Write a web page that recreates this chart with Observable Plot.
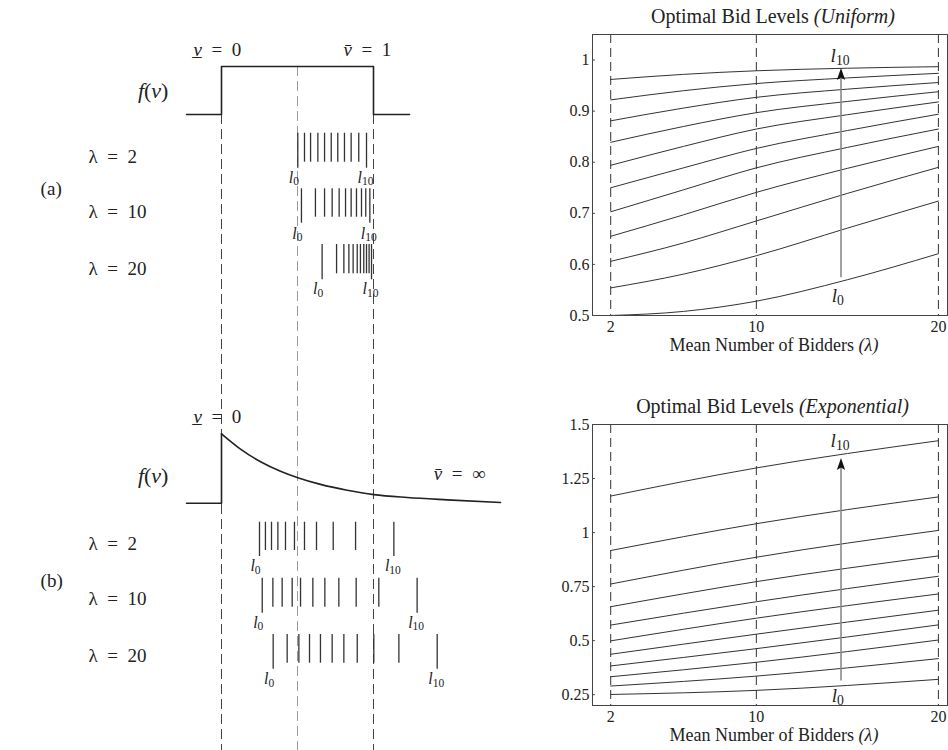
<!DOCTYPE html>
<html><head><meta charset="utf-8">
<script src="https://cdn.jsdelivr.net/npm/d3@7"></script>
<script src="https://cdn.jsdelivr.net/npm/@observablehq/plot@0.6"></script>
<style>
body{margin:0;background:#fff;}
#root{position:relative;width:948px;height:750px;overflow:hidden;font-family:"Liberation Serif","Times New Roman",serif;color:#222;}
.abs{position:absolute;}
.lbl{position:absolute;white-space:nowrap;transform:translate(-50%,-50%);}
.title{font-size:20px;}
.axl{font-size:18px;}
</style></head><body><div id="root"></div>
<script>
// ---------- DATA ----------
const levelNames = ["l0","l1","l2","l3","l4","l5","l6","l7","l8","l9","l10"];
const lambdaTicks = [2, 10, 20];

// Right-top: optimal bid levels, uniform values (rows l0..l10, at lambdaUniform)
const lambdaUniform = [2, 6, 10, 15, 20];
const uniformBids = [
  [0.500, 0.508, 0.528, 0.570, 0.621],
  [0.554, 0.581, 0.617, 0.671, 0.724],
  [0.606, 0.642, 0.685, 0.739, 0.790],
  [0.655, 0.697, 0.741, 0.788, 0.831],
  [0.703, 0.746, 0.789, 0.829, 0.865],
  [0.750, 0.789, 0.827, 0.862, 0.894],
  [0.794, 0.831, 0.865, 0.893, 0.918],
  [0.839, 0.870, 0.897, 0.919, 0.938],
  [0.881, 0.906, 0.927, 0.943, 0.956],
  [0.922, 0.940, 0.954, 0.965, 0.974],
  [0.962, 0.972, 0.979, 0.984, 0.987]
];
const uniformYTicks = [0.5, 0.6, 0.7, 0.8, 0.9, 1];

// Right-bottom: optimal bid levels, exponential values
const lambdaExp = [2, 10, 20];
const expBids = [
  [0.251, 0.270, 0.321],
  [0.290, 0.336, 0.417],
  [0.333, 0.400, 0.503],
  [0.383, 0.463, 0.573],
  [0.437, 0.530, 0.641],
  [0.499, 0.604, 0.716],
  [0.572, 0.680, 0.798],
  [0.657, 0.773, 0.892],
  [0.762, 0.886, 1.010],
  [0.917, 1.041, 1.165],
  [1.169, 1.299, 1.425]
];
const expYTicks = [0.25, 0.5, 0.75, 1, 1.25, 1.5];

// Left panels: bid level positions (value units) for lambda = 2, 10, 20
const ticksUniform2  = [0.502, 0.546, 0.586, 0.634, 0.678, 0.722, 0.765, 0.809, 0.853, 0.903, 0.954];
const ticksUniform10 = [0.526, 0.618, 0.678, 0.728, 0.774, 0.816, 0.853, 0.888, 0.921, 0.949, 0.976];
const ticksUniform20 = [0.662, 0.757, 0.805, 0.838, 0.866, 0.893, 0.914, 0.936, 0.954, 0.971, 0.987];
const ticksExp2  = [0.250, 0.289, 0.329, 0.371, 0.421, 0.480, 0.546, 0.625, 0.735, 0.882, 1.134];
const ticksExp10 = [0.268, 0.338, 0.399, 0.465, 0.520, 0.601, 0.680, 0.772, 0.886, 1.035, 1.287];
const ticksExp20 = [0.340, 0.432, 0.509, 0.579, 0.651, 0.728, 0.805, 0.893, 1.002, 1.167, 1.419];

// Density shapes f(v) (relative height)
const uniformDensityV = [-0.23, 0, 0, 1, 1, 1.237];
const uniformDensityF = [0, 0, 1, 1, 0, 0];
const expStepV = [-0.23, 0, 0];
const expStepF = [0, 0, 1];
const expDecayV = [0, 0.125, 0.257, 0.388, 0.502, 0.651, 0.827, 1.002, 1.222, 1.485, 1.836];
const expDecayF = [1, 0.78, 0.597, 0.46, 0.367, 0.271, 0.187, 0.124, 0.082, 0.048, 0.01];

// ---------- LAYOUT (pixels) ----------
const panelA = {base: 114, amp: 48, dashTop: 114, midTop: 66,
  rows: [
    {lam: 2,  ticks: ticksUniform2,  top: 132.7, bot: 161.7, labY: 156.7, subY: 177},
    {lam: 10, ticks: ticksUniform10, top: 188.3, bot: 216.7, labY: 211.7, subY: 233},
    {lam: 20, ticks: ticksUniform20, top: 244,   bot: 273.3, labY: 268,   subY: 288.5}
  ]};
const panelB = {base: 502.7, amp: 69.4,
  rows: [
    {lam: 2,  ticks: ticksExp2,  top: 521.7, bot: 550,   labY: 543.3, subY: 565.5},
    {lam: 10, ticks: ticksExp10, top: 577.7, bot: 606.7, labY: 598.3, subY: 622},
    {lam: 20, ticks: ticksExp20, top: 634,   bot: 662.7, labY: 655,   subY: 678.5}
  ]};

// ---------- helpers ----------
const SVGNS = "http://www.w3.org/2000/svg";
function rich(svg) {
  d3.select(svg).selectAll("text").each(function () {
    const s = this.textContent;
    if (!/[*_]/.test(s)) return;
    const parts = s.split(/(\*[^*]*\*|_\{[^}]*\})/).filter(p => p !== "");
    this.textContent = "";
    let sub = false;
    for (const p of parts) {
      const t = document.createElementNS(SVGNS, "tspan");
      if (p.startsWith("*")) {
        t.textContent = p.slice(1, -1); t.setAttribute("font-style", "italic");
        if (sub) { t.setAttribute("dy", "-0.2em"); sub = false; }
      } else if (p.startsWith("_{")) {
        t.textContent = p.slice(2, -1); t.setAttribute("font-size", "0.72em");
        t.setAttribute("dy", "0.22em"); t.setAttribute("font-style", "normal"); sub = true;
      } else {
        t.textContent = p; t.setAttribute("font-style", "normal");
        if (sub) { t.setAttribute("dy", "-0.2em"); sub = false; }
      }
      this.appendChild(t);
    }
  });
  return svg;
}
const stealth = {
  draw(ctx, size) {
    const s = Math.sqrt(size);
    ctx.moveTo(0, -0.95 * s);
    ctx.lineTo(0.47 * s, 0.4 * s);
    ctx.lineTo(0, 0.12 * s);
    ctx.lineTo(-0.47 * s, 0.4 * s);
    ctx.closePath();
  }
};

const root = document.getElementById("root");
function place(el, left, top) { el.classList.add("abs"); el.style.left = left + "px"; el.style.top = top + "px"; root.appendChild(el); }
function html(cls, x, y, content) { const d = document.createElement("div"); d.className = "lbl " + cls; d.style.left = x + "px"; d.style.top = y + "px"; d.innerHTML = content; root.appendChild(d); }

// ---------- LEFT PANELS ----------
{
  const density = [];
  uniformDensityV.forEach((v, i) => density.push({part: "a", v, y: panelA.base - uniformDensityF[i] * panelA.amp}));
  expStepV.forEach((v, i) => density.push({part: "b-step", v, y: panelB.base - expStepF[i] * panelB.amp}));
  const decay = expDecayV.map((v, i) => ({part: "b-decay", v, y: panelB.base - expDecayF[i] * panelB.amp}));

  const tickRows = [], subL0 = [], subL10 = [], lamLabels = [];
  for (const P of [panelA, panelB]) for (const r of P.rows) {
    r.ticks.forEach((v, i) => tickRows.push({v, top: r.top, bot: (i === 0 || i === r.ticks.length - 1) ? r.bot + 6 : r.bot}));
    subL0.push({v: r.ticks[0], y: r.subY, t: "*l*_{0}"});
    subL10.push({v: r.ticks[r.ticks.length - 1], y: r.subY, t: "*l*_{10}"});
    lamLabels.push({v: -0.875, y: r.labY, t: "λ\u2002=\u2002" + r.lam});
  }
  const guideLines = [
    {v: 0, y1: panelA.dashTop, y2: 750, stroke: "#444"},
    {v: 0.5, y1: panelA.midTop, y2: 750, stroke: "#9a9a9a"},
    {v: 1, y1: panelA.dashTop, y2: 750, stroke: "#444"}
  ];
  const startLabels = [
    {v: -0.184, y: 49, t: "*v\u0332*\u2002=\u20020"},
    {v: 0.803, y: 49, t: "*v\u0304*\u2002=\u20021"},
    {v: -0.184, y: 416, t: "*v\u0332*\u2002=\u20020"},
    {v: 1.397, y: 473.3, t: "*v\u0304*\u2002=\u2002∞"},
    {v: -1.19, y: 188, t: "(a)"},
    {v: -1.19, y: 580, t: "(b)"}
  ];
  const endLabels = [
    {v: -0.349, y: 90, t: "*f*(*v*)"},
    {v: -0.349, y: 475, t: "*f*(*v*)"}
  ];
  const svg = Plot.plot({
    width: 560, height: 750, margin: 0,
    x: {domain: [0, 1], range: [221, 373], axis: null},
    y: {domain: [0, 750], range: [0, 750], axis: null},
    style: {fontFamily: "Liberation Serif, serif", background: "transparent", color: "#222"},
    marks: [
      Plot.ruleX(guideLines, {x: "v", y1: "y1", y2: "y2", stroke: "stroke", strokeDasharray: "10,5", strokeWidth: 1}),
      Plot.line(density, {x: "v", y: "y", z: "part", stroke: "#222", strokeWidth: 1.6}),
      Plot.line(decay, {x: "v", y: "y", stroke: "#222", strokeWidth: 1.6, curve: "monotone-x"}),
      Plot.ruleX(tickRows, {x: "v", y1: "top", y2: "bot", stroke: "#333", strokeWidth: 1.3}),
      Plot.text(subL0, {x: "v", y: "y", text: "t", dx: -4, fontSize: 16, lineAnchor: "middle"}),
      Plot.text(subL10, {x: "v", y: "y", text: "t", dx: -1, fontSize: 16, lineAnchor: "middle"}),
      Plot.text(lamLabels, {x: "v", y: "y", text: "t", textAnchor: "start", lineAnchor: "middle", fontSize: 19}),
      Plot.text(startLabels, {x: "v", y: "y", text: "t", textAnchor: "start", lineAnchor: "middle", fontSize: 19}),
      Plot.text(endLabels, {x: "v", y: "y", text: "t", textAnchor: "end", lineAnchor: "middle", fontSize: 22})
    ]
  });
  rich(svg);
  place(svg, 0, 0);
}

// ---------- RIGHT PLOTS ----------
function bidPlot({series, lams, yDomain, yTicks, arrow, labels}) {
  const rows = [];
  series.forEach((vals, k) => vals.forEach((b, i) => rows.push({level: levelNames[k], lam: lams[i], bid: b})));
  const svg = Plot.plot({
    width: 388, height: 360, marginLeft: 32, marginRight: 1, marginTop: 34, marginBottom: 45,
    x: {domain: [1, 20.5], ticks: lambdaTicks, tickSize: 0, tickPadding: 5, label: null, tickFormat: d => String(d)},
    y: {domain: yDomain, ticks: yTicks, tickSize: 0, tickPadding: 3, label: null, tickFormat: d => String(d)},
    style: {fontFamily: "Liberation Serif, serif", fontSize: "16px", background: "transparent", color: "#222"},
    marks: [
      Plot.ruleX(lambdaTicks, {stroke: "#333", strokeDasharray: "9,5", strokeWidth: 1}),
      Plot.ruleY(yTicks, {x1: 1, x2: 1.16, stroke: "#444"}),
      Plot.line(rows, {x: "lam", y: "bid", z: "level", stroke: "#333", strokeWidth: 1, curve: "monotone-x"}),
      Plot.ruleX([arrow], {x: "lam", y1: "from", y2: "to", stroke: "#8a8a8a", strokeWidth: 1.6}),
      Plot.dot([arrow], {x: "lam", y: "to", symbol: stealth, r: 5, fill: "#111", stroke: "none"}),
      Plot.text(labels, {x: "lam", y: "y", text: "t", fontSize: 19, lineAnchor: "middle"}),
      Plot.frame({stroke: "#444", strokeWidth: 1})
    ]
  });
  return rich(svg);
}

place(bidPlot({
  series: uniformBids, lams: lambdaUniform, yDomain: [0.5, 1.05], yTicks: uniformYTicks,
  arrow: {lam: 14.65, from: 0.574, to: 0.968},
  labels: [{lam: 14.6, y: 1.008, t: "*l*_{10}"}, {lam: 14.47, y: 0.539, t: "*l*_{0}"}]
}), 560, 0);

place(bidPlot({
  series: expBids, lams: lambdaExp, yDomain: [0.2, 1.5], yTicks: expYTicks,
  arrow: {lam: 14.65, from: 0.313, to: 1.306},
  labels: [{lam: 14.6, y: 1.425, t: "*l*_{10}"}, {lam: 14.47, y: 0.243, t: "*l*_{0}"}]
}), 560, 390);

html("title", 773, 16, "Optimal Bid Levels <i>(Uniform)</i>");
html("axl", 774, 345, "Mean Number of Bidders <i>(λ)</i>");
html("title", 772.5, 406, "Optimal Bid Levels <i>(Exponential)</i>");
html("axl", 774, 735, "Mean Number of Bidders <i>(λ)</i>");
</script>
</body></html>
